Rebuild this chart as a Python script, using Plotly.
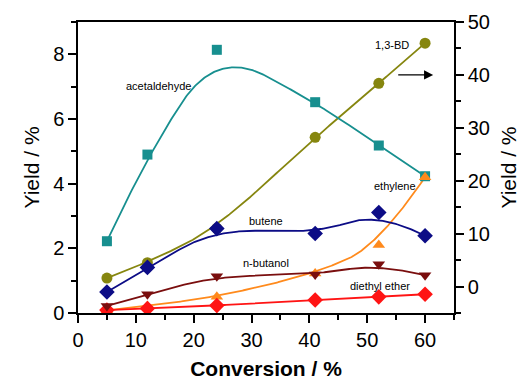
import numpy as np
import plotly.graph_objects as go

conversion = [5, 12, 24, 41, 52, 60]
acetaldehyde = [2.22, 4.90, 8.14, 6.52, 5.18, 4.23]
butadiene = [1.6, 4.5, 11.0, 28.2, 38.4, 46.0]  # right axis
butene = [0.65, 1.41, 2.61, 2.46, 3.11, 2.39]
n_butanol = [0.22, 0.58, 1.14, 1.19, 1.51, 1.17]
ethylene = [0.08, 0.22, 0.50, 1.22, 2.10, 4.20]
diethyl_ether = [0.09, 0.14, 0.23, 0.40, 0.50, 0.58]

x_ticks = [0, 10, 20, 30, 40, 50, 60]
left_ticks = [0, 2, 4, 6, 8]
right_ticks = [0, 10, 20, 30, 40, 50]


def bspline(xs, ys, deg=2, num=300):
    P = np.column_stack([xs, ys]).astype(float)
    n = len(P)
    k = deg
    t = np.concatenate([np.zeros(k), np.linspace(0, 1, n - k + 1), np.ones(k)])
    u = np.linspace(0, 1 - 1e-9, num)
    B = np.zeros((num, len(t) - 1))
    for i in range(len(t) - 1):
        B[:, i] = (t[i] <= u) & (u < t[i + 1])
    for p in range(1, k + 1):
        Bn = np.zeros((num, len(t) - 1 - p))
        for i in range(len(t) - 1 - p):
            a = 0.0
            d1 = t[i + p] - t[i]
            if d1 > 0:
                a = (u - t[i]) / d1 * B[:, i]
            b = 0.0
            d2 = t[i + p + 1] - t[i + 1]
            if d2 > 0:
                b = (t[i + p + 1] - u) / d2 * B[:, i + 1]
            Bn[:, i] = a + b
        B = Bn
    C = B @ P
    C = np.vstack([C, P[-1]])
    return C[:, 0], C[:, 1]


fig = go.Figure()

series_right = [
    ("1,3-BD", butadiene, "#86860f", "circle", 11),
]
series_left = [
    ("acetaldehyde", acetaldehyde, "#178f8f", "square", 10),
    ("ethylene", ethylene, "#ff8a1c", "triangle-up", 11),
    ("diethyl ether", diethyl_ether, "#ff1414", "diamond", 12),
    ("n-butanol", n_butanol, "#7a0e0e", "triangle-down", 11),
    ("butene", butene, "#0c0c86", "diamond", 12),
]

for name, vals, col, sym, sz in series_right:
    cx, cy = bspline(conversion, vals)
    fig.add_trace(go.Scatter(x=cx, y=cy, mode="lines", line=dict(color=col, width=1.8),
                             yaxis="y", showlegend=False, hoverinfo="skip"))
    fig.add_trace(go.Scatter(x=conversion, y=vals, mode="markers", name=name,
                             marker=dict(symbol=sym, size=sz, color=col),
                             yaxis="y", showlegend=False))

for name, vals, col, sym, sz in series_left:
    cx, cy = bspline(conversion, vals)
    fig.add_trace(go.Scatter(x=cx, y=cy, mode="lines", line=dict(color=col, width=1.8),
                             yaxis="y2", showlegend=False, hoverinfo="skip"))
for name, vals, col, sym, sz in series_left:
    fig.add_trace(go.Scatter(x=conversion, y=vals, mode="markers", name=name,
                             marker=dict(symbol=sym, size=sz, color=col),
                             yaxis="y2", showlegend=False))

font_family = "Liberation Sans, Arial, sans-serif"
axis_common = dict(
    showline=True, linecolor="black", linewidth=1.5,
    ticks="outside", ticklen=8, tickwidth=1.5, tickcolor="black",
    showgrid=False, zeroline=False, automargin=False,
    tickfont=dict(size=20, color="black", family=font_family),
)

fig.update_layout(
    width=520, height=380,
    margin=dict(l=78, r=66, t=22, b=67),
    paper_bgcolor="white", plot_bgcolor="white",
    font=dict(family=font_family, color="black"),
    xaxis=dict(range=[0, 65], tickvals=x_ticks, mirror=True,
               minor=dict(dtick=5, ticks="outside", ticklen=5, tickwidth=1.5, tickcolor="black"),
               title=dict(text="<b>Conversion / %</b>", font=dict(size=21), standoff=20),
               **axis_common),
    yaxis=dict(range=[-5, 50], tickvals=right_ticks, side="right",
               minor=dict(dtick=5, ticks="outside", ticklen=5, tickwidth=1.5, tickcolor="black"),
               title=dict(text="Yield / %", font=dict(size=21), standoff=12),
               **axis_common),
    yaxis2=dict(range=[0, 9], tickvals=left_ticks, side="left", overlaying="y",
                minor=dict(dtick=1, ticks="outside", ticklen=5, tickwidth=1.5, tickcolor="black"),
                title=dict(text="Yield / %", font=dict(size=21), standoff=8),
                **axis_common),
)

labels = [
    ("acetaldehyde", 13.84, 7.02),
    ("1,3-BD", 54.3, 8.30),
    ("ethylene", 54.8, 3.92),
    ("butene", 32.5, 2.84),
    ("n-butanol", 32.5, 1.54),
    ("diethyl ether", 52.2, 0.84),
]
for txt, lx, ly in labels:
    fig.add_annotation(x=lx, y=ly, xref="x", yref="y2", text=txt, showarrow=False,
                       font=dict(size=11, color="black", family=font_family))

fig.add_annotation(x=61.4, y=40, xref="x", yref="y", ax=55.1, ay=40, axref="x", ayref="y",
                   text="", showarrow=True, arrowhead=2, arrowsize=1.4, arrowwidth=1.3,
                   arrowcolor="black")

fig.write_html("out.html")
